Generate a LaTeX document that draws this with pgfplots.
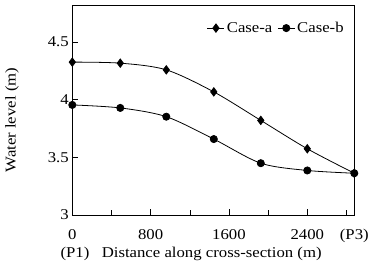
\documentclass[border=0pt]{standalone}
\usepackage{pgfplots}
\pgfplotsset{compat=1.18}
\usepackage{fontspec}
\setmainfont[FakeStretch=1.12]{Liberation Serif}
\newcommand\f{\fontsize{15}{17}\selectfont}
\begin{document}
\begin{tikzpicture}
\useasboundingbox (0,0) rectangle (377bp,267bp);
\begin{axis}[
  at={(72.3bp,52bp)}, anchor=south west,
  scale only axis, width=282bp, height=210bp,
  clip=false,
  xmin=0, xmax=2880, ymin=3, ymax=4.82,
  xtick={0,800,1600,2400,2880},
  xticklabels={0,800,1600,2400,(P3)},
  minor xtick={400,1200,2000,2800},
  ytick={3,3.5,4,4.5},
  yticklabels={3,3.5,4,4.5},
  tick align=inside,
  xtick pos=bottom, ytick pos=left,
  major tick length=6bp, minor tick length=5bp,
  tick style={black, line width=0.6pt},
  minor tick style={black, line width=0.6pt},
  axis line style={line width=0.8pt},
  /pgf/number format/assume math mode=true,
  tick label style={font=\f},
  xticklabel style={yshift=-11bp},
  xlabel={Distance along cross-section (m)},
  xlabel style={font=\f, at={(axis description cs:0.092,-0.186)}, anchor=west},
  ylabel={Water level (m)},
  ylabel style={font=\f, at={(axis description cs:-0.214,0.452)}, anchor=center, rotate=0},
  legend style={draw=none, fill=none, font=\f, at={(axis description cs:0.97,0.89)}, anchor=east, inner sep=0pt},
  legend columns=2,
  legend image post style={line width=0.8pt},
  /tikz/every even column/.append style={column sep=3bp},
]
\addplot[black, line width=0.8pt, smooth, mark=diamond*, mark size=4.2pt, mark options={solid}]
coordinates {(0,4.325) (490,4.316) (960,4.258) (1445,4.067) (1925,3.820) (2400,3.574) (2880,3.362)};
\addlegendentry{Case-a}
\addplot[black, line width=0.8pt, smooth, mark=*, mark size=3.6pt, mark options={solid}]
coordinates {(0,3.954) (490,3.928) (960,3.852) (1445,3.658) (1925,3.449) (2400,3.386) (2880,3.362)};
\addlegendentry{Case-b}
\node[font=\f, anchor=center] at (axis description cs:0.0096,-0.186) {(P1)};
\end{axis}
\end{tikzpicture}
\end{document}
